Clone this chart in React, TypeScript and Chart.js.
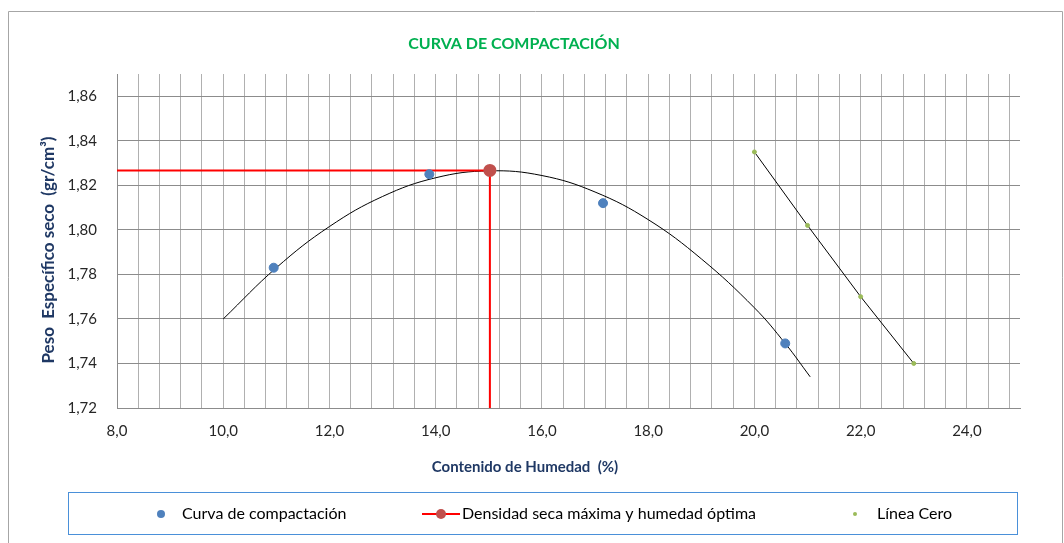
import React, { useEffect, useRef } from 'react';
import { Chart, registerables } from 'chart.js';

Chart.register(...registerables);

// ---- data ----
const compactX = [10.95, 13.88, 17.15, 20.58];
const compactY = [1.783, 1.825, 1.812, 1.749];

const trendX = [10, 11, 12, 13, 14, 15, 16, 17, 18, 19, 20, 20.58, 21.05];
const trendY = [1.760, 1.783, 1.8015, 1.815, 1.8234, 1.8265, 1.8244, 1.817, 1.8046, 1.787, 1.765, 1.749, 1.734];

const optimoX = [8.0, 15.02, 15.02];
const optimoY = [1.8267, 1.8267, 1.72];

const ceroX = [20, 21, 22, 23];
const ceroY = [1.835, 1.802, 1.770, 1.740];

const yTicks = [1.72, 1.74, 1.76, 1.78, 1.80, 1.82, 1.84, 1.86];
const xMajorTicks = [8, 10, 12, 14, 16, 18, 20, 22, 24];
const xMinorStep = 0.4;

const titleText = 'CURVA DE COMPACTACIÓN';
const xTitle = 'Contenido de Humedad  (%)';
const yTitle = 'Peso  Específico seco  (gr/cm³)';
const legendLabels = ['Curva de compactación', 'Densidad seca máxima y humedad óptima', 'Línea Cero'];

const FONT = 'Lato, "Open Sans", sans-serif';

function pts(xs: number[], ys: number[]) {
  return xs.map((x, i) => ({ x, y: ys[i] }));
}

const decorPlugin = {
  id: 'decor',
  beforeDraw(chart: any) {
    const ctx = chart.ctx;
    ctx.save();
    ctx.fillStyle = '#ffffff';
    ctx.fillRect(0, 0, chart.width, chart.height);
    ctx.restore();
  },
  afterDraw(chart: any) {
    const ctx = chart.ctx;
    ctx.save();
    // outer border
    ctx.strokeStyle = '#a6a6a6';
    ctx.lineWidth = 1;
    ctx.beginPath();
    ctx.moveTo(8.5, 560);
    ctx.lineTo(8.5, 11.5);
    ctx.lineTo(1062.5, 11.5);
    ctx.lineTo(1062.5, 560);
    ctx.stroke();

    // title
    ctx.fillStyle = '#00b050';
    ctx.font = `bold 16px ${FONT}`;
    ctx.textAlign = 'center';
    ctx.textBaseline = 'middle';
    ctx.fillText(titleText, 514, 44);

    // axis titles
    ctx.fillStyle = '#1f3864';
    ctx.font = `bold 15px ${FONT}`;
    ctx.fillText(xTitle, 525, 467);
    ctx.save();
    ctx.translate(49, 250);
    ctx.rotate(-Math.PI / 2);
    ctx.font = `bold 17px ${FONT}`;
    ctx.fillText(yTitle, 0, 0);
    ctx.restore();

    // legend
    ctx.strokeStyle = '#4a90d9';
    ctx.lineWidth = 1;
    ctx.strokeRect(68.5, 492.5, 949, 42);
    const ly = 514;
    ctx.font = `16px ${FONT}`;
    ctx.textAlign = 'left';
    // item 1
    ctx.beginPath();
    ctx.fillStyle = '#4f81bd';
    ctx.arc(161, ly, 4, 0, Math.PI * 2);
    ctx.fill();
    ctx.fillStyle = '#000000';
    ctx.fillText(legendLabels[0], 182, ly);
    // item 2
    ctx.strokeStyle = '#ff0000';
    ctx.lineWidth = 2;
    ctx.beginPath();
    ctx.moveTo(422, ly);
    ctx.lineTo(460, ly);
    ctx.stroke();
    ctx.beginPath();
    ctx.fillStyle = '#c0504d';
    ctx.arc(441, ly, 5, 0, Math.PI * 2);
    ctx.fill();
    ctx.fillStyle = '#000000';
    ctx.fillText(legendLabels[1], 462, ly);
    // item 3
    ctx.beginPath();
    ctx.fillStyle = '#9bbb59';
    ctx.arc(855, ly, 2, 0, Math.PI * 2);
    ctx.fill();
    ctx.fillStyle = '#000000';
    ctx.fillText(legendLabels[2], 877, ly);
    ctx.restore();
  },
};

export default function App() {
  const ref = useRef<HTMLCanvasElement | null>(null);
  useEffect(() => {
    if (!ref.current) return;
    const chart = new Chart(ref.current, {
      type: 'scatter',
      data: {
        datasets: [
          {
            label: legendLabels[0],
            data: pts(compactX, compactY),
            showLine: false,
            pointRadius: 4.5,
            pointBackgroundColor: '#4f81bd',
            pointBorderColor: '#4f81bd',
            order: 0,
          },
          {
            label: legendLabels[1],
            data: pts(optimoX, optimoY),
            showLine: true,
            borderColor: '#ff0000',
            borderWidth: 2,
            pointRadius: [0, 5.5, 0],
            pointBackgroundColor: '#c0504d',
            pointBorderColor: '#c0504d',
            order: 1,
          },
          {
            label: 'trend',
            data: pts(trendX, trendY),
            showLine: true,
            borderColor: '#000000',
            borderWidth: 1,
            pointRadius: 0,
            tension: 0.4,
            order: 2,
          },
          {
            label: legendLabels[2],
            data: pts(ceroX, ceroY),
            showLine: true,
            borderColor: '#000000',
            borderWidth: 1,
            pointRadius: 2,
            pointBackgroundColor: '#9bbb59',
            pointBorderColor: '#9bbb59',
            order: 3,
          },
        ] as any,
      },
      options: {
        animation: false,
        responsive: false,
        layout: { padding: { left: 0, right: 44, top: 74, bottom: 0 } },
        plugins: {
          legend: { display: false },
          title: { display: false },
          tooltip: { enabled: false },
        },
        scales: {
          x: {
            type: 'linear',
            min: 8,
            max: 25,
            afterFit: (s: any) => { s.height = 135; },
            afterBuildTicks: (s: any) => {
              const t = [];
              for (let i = 0; 8 + i * xMinorStep < 25 - 1e-9; i++) {
                t.push({ value: Math.round((8 + i * xMinorStep) * 10) / 10 });
              }
              s.ticks = t;
            },
            grid: { color: '#b0b0b0', lineWidth: 1, drawTicks: false },
            border: { color: '#8c8c8c', width: 1 },
            ticks: {
              autoSkip: false,
              maxRotation: 0,
              padding: 14,
              color: '#262626',
              font: { family: FONT, size: 15 },
              callback: (v: any) => {
                const n = Math.round(Number(v) * 10) / 10;
                return xMajorTicks.some((m) => Math.abs(m - n) < 1e-6) ? n.toFixed(1).replace('.', ',') : '';
              },
            },
          },
          y: {
            type: 'linear',
            min: 1.72,
            max: 1.87,
            afterFit: (s: any) => { s.width = 117; },
            afterBuildTicks: (s: any) => {
              s.ticks = yTicks.map((v) => ({ value: v }));
            },
            grid: { color: '#8c8c8c', lineWidth: 1, drawTicks: false },
            border: { color: '#8c8c8c', width: 1 },
            ticks: {
              padding: 20,
              color: '#262626',
              font: { family: FONT, size: 15 },
              callback: (v: any) => Number(v).toFixed(2).replace('.', ','),
            },
          },
        },
      } as any,
      plugins: [decorPlugin],
    });
    return () => chart.destroy();
  }, []);
  return (
    <div style={{ position: 'absolute', left: 0, top: 0, width: 1064, height: 543 }}>
      <canvas ref={ref} width={1064} height={543} style={{ display: 'block' }} />
    </div>
  );
}
